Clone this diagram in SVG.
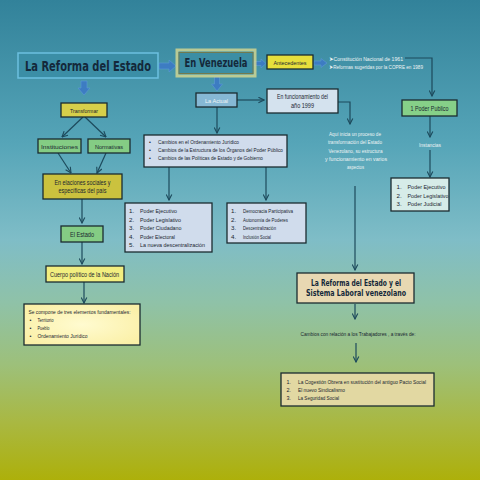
<svg xmlns="http://www.w3.org/2000/svg" width="480" height="480" viewBox="0 0 480 480">
<defs>
<linearGradient id="bg" x1="0" y1="0" x2="0" y2="1">
<stop offset="0" stop-color="#32829a"/>
<stop offset="0.3" stop-color="#56a5b8"/>
<stop offset="0.5" stop-color="#7fbdc7"/>
<stop offset="0.63" stop-color="#8fc2a8"/>
<stop offset="0.76" stop-color="#9dc07a"/>
<stop offset="0.88" stop-color="#a9b842"/>
<stop offset="1" stop-color="#adb00a"/>
</linearGradient>
<radialGradient id="yel" cx="0.5" cy="0.5" r="0.6">
<stop offset="0" stop-color="#fffbd0"/>
<stop offset="1" stop-color="#fbf0a8"/>
</radialGradient>
<marker id="ah" viewBox="0 0 10 10" refX="9" refY="5" markerWidth="7" markerHeight="7" orient="auto" markerUnits="userSpaceOnUse">
<path d="M1,1 L9,5 L1,9" fill="none" stroke="#1d4a5c" stroke-width="1.6"/>
</marker>
<style>
.box{stroke:#1b2b30;stroke-width:1.3}
.t{font-family:"Liberation Sans",Arial,sans-serif;fill:#1a2630}
.w{font-family:"Liberation Sans",Arial,sans-serif;fill:#eef4f4}
.h{font-family:"DejaVu Sans Condensed","DejaVu Sans",sans-serif;font-weight:bold;fill:#14283a}
.c{fill:none;stroke:#1d4a5c;stroke-width:1.2}
.ba{fill:#3d7cc2;stroke:#5d9ad6;stroke-width:0.6}
.m{text-anchor:middle}
</style>
</defs>
<rect width="480" height="480" fill="url(#bg)"/>

<g id="connectors">
<path class="ba" d="M159,63 H169 V60 L176,66 L169,72 V69 H159 Z"/>
<path class="ba" d="M254,61.5 H261 V59 L266,63.5 L261,68 V65.5 H254 Z"/>
<path class="ba" d="M314,61 H321 V58.5 L327,63 L321,67.5 V65 H314 Z"/>
<path class="ba" d="M214.5,77 H219.5 V84 H222.5 L217,91 L211.5,84 H214.5 Z"/>
<path class="ba" d="M81,81 H87 V88 H90 L84,95 L78,88 H81 Z"/>
<path class="c" d="M405,58 H432 V96" marker-end="url(#ah)"/>
<path class="c" d="M430,116 V137" marker-end="url(#ah)"/>
<path class="c" d="M430,150 V177" marker-end="url(#ah)"/>
<path class="c" d="M237,100 H264" marker-end="url(#ah)"/>
<path class="c" d="M338,102 H350 V124" marker-end="url(#ah)"/>
<path class="c" d="M355,186 V270" marker-end="url(#ah)"/>
<path class="c" d="M217,107 V133" marker-end="url(#ah)"/>
<path class="c" d="M169,167 V200" marker-end="url(#ah)"/>
<path class="c" d="M266,167 V200" marker-end="url(#ah)"/>
<path class="c" d="M83,117 L62,137" marker-end="url(#ah)"/>
<path class="c" d="M85,117 L106,137" marker-end="url(#ah)"/>
<path class="c" d="M58,153 L71,173" marker-end="url(#ah)"/>
<path class="c" d="M106,153 L97,173" marker-end="url(#ah)"/>
<path class="c" d="M82,199 V223" marker-end="url(#ah)"/>
<path class="c" d="M82,242 V264" marker-end="url(#ah)"/>
<path class="c" d="M84,282 V303" marker-end="url(#ah)"/>
<path class="c" d="M355,304 V319" marker-end="url(#ah)"/>
<path class="c" d="M356,343 V362" marker-end="url(#ah)"/>
</g>

<g id="n-reforma">
<rect x="18" y="53" width="140" height="25" fill="#3b8ea6" stroke="#6cc0e0" stroke-width="1.5"/>
<text class="h m" x="88" y="70.5" font-size="14" textLength="126" lengthAdjust="spacingAndGlyphs">La Reforma del Estado</text>
</g>

<g id="n-venezuela">
<rect x="177" y="50" width="78" height="26" fill="none" stroke="#d8d890" stroke-width="3" opacity="0.8"/>
<rect x="179" y="52.5" width="74" height="21" fill="#3c8ea4" stroke="#707a50" stroke-width="1"/>
<text class="h m" x="216" y="67" font-size="11.5" textLength="63" lengthAdjust="spacingAndGlyphs">En Venezuela</text>
</g>

<g id="n-antecedentes">
<rect class="box" x="267" y="55" width="46" height="14" fill="#e6df3c"/>
<text class="t m" x="290" y="64.5" font-size="6" textLength="33" lengthAdjust="spacingAndGlyphs">Antecedentes</text>
</g>

<g id="n-antec-text">
<text class="w" x="329" y="60.5" font-size="5.6" textLength="74" lengthAdjust="spacingAndGlyphs">➤Constitución Nacional de 1961</text>
<text class="w" x="329" y="68.5" font-size="5.6" textLength="94" lengthAdjust="spacingAndGlyphs">➤Reformas sugeridas por la COPRE en 1989</text>
</g>

<g id="n-poderpublico">
<rect class="box" x="402" y="100" width="55" height="16" fill="#86d088"/>
<text class="t m" x="429.5" y="110.5" font-size="6.5" textLength="38" lengthAdjust="spacingAndGlyphs">1 Poder Publico</text>
</g>

<g id="n-instancias">
<text class="w m" x="430" y="146.5" font-size="5.6" textLength="22" lengthAdjust="spacingAndGlyphs">Instancias</text>
</g>

<g id="n-poderes3">
<rect class="box" x="391" y="178" width="58" height="33" fill="#d6ece8"/>
<text class="t" x="396.5" y="189" font-size="6.2">1.</text>
<text class="t" x="396.5" y="197.5" font-size="6.2">2.</text>
<text class="t" x="396.5" y="206" font-size="6.2">3.</text>
<text class="t" x="407.5" y="189" font-size="6.2" textLength="38" lengthAdjust="spacingAndGlyphs">Poder Ejecutivo</text>
<text class="t" x="407.5" y="197.5" font-size="6.2" textLength="41" lengthAdjust="spacingAndGlyphs">Poder Legislativo</text>
<text class="t" x="407.5" y="206" font-size="6.2" textLength="34" lengthAdjust="spacingAndGlyphs">Poder Judicial</text>
</g>

<g id="n-actual">
<rect class="box" x="196" y="93" width="41" height="14" fill="#86b8d4"/>
<text class="w m" x="216.5" y="102.5" font-size="6.2" textLength="23" lengthAdjust="spacingAndGlyphs">La Actual</text>
</g>

<g id="n-funcionamiento">
<rect class="box" x="267" y="89" width="71" height="24" fill="#d4e2ee"/>
<text class="t m" x="302.5" y="99" font-size="6.3" textLength="51" lengthAdjust="spacingAndGlyphs">En funcionamiento del</text>
<text class="t m" x="302.5" y="107.5" font-size="6.3" textLength="23" lengthAdjust="spacingAndGlyphs">año 1999</text>
</g>

<g id="n-aqui">
<text class="w m" x="355" y="136" font-size="5.6" textLength="52" lengthAdjust="spacingAndGlyphs">Aquí inicia un proceso de</text>
<text class="w m" x="355" y="144.3" font-size="5.6" textLength="54" lengthAdjust="spacingAndGlyphs">transformación del Estado</text>
<text class="w m" x="355.5" y="152.6" font-size="5.6" textLength="54" lengthAdjust="spacingAndGlyphs">Venezolano, su estructura</text>
<text class="w m" x="356" y="160.9" font-size="5.6" textLength="62" lengthAdjust="spacingAndGlyphs">y funcionamiento  en varios</text>
<text class="w m" x="355.5" y="169.2" font-size="5.6" textLength="17" lengthAdjust="spacingAndGlyphs">aspectos</text>
</g>

<g id="n-cambios">
<rect class="box" x="144" y="135" width="143" height="32" fill="#d0dcec"/>
<text class="t" x="149" y="144" font-size="5.3">•</text>
<text class="t" x="149" y="152" font-size="5.3">•</text>
<text class="t" x="149" y="160" font-size="5.3">•</text>
<text class="t" x="158" y="144" font-size="5.4" textLength="81" lengthAdjust="spacingAndGlyphs">Cambios en el Ordenamiento Jurídico</text>
<text class="t" x="158" y="152" font-size="5.4" textLength="125" lengthAdjust="spacingAndGlyphs">Cambios de la Estructura de los Órganos del Poder Público</text>
<text class="t" x="158" y="160" font-size="5.4" textLength="105" lengthAdjust="spacingAndGlyphs">Cambios de las Políticas de Estado y de Gobierno</text>
</g>

<g id="n-poderes5">
<rect class="box" x="125" y="203" width="87" height="49" fill="#d0dcec"/>
<text class="t" x="129" y="213" font-size="6.2">1.</text>
<text class="t" x="129" y="221.5" font-size="6.2">2.</text>
<text class="t" x="129" y="230" font-size="6.2">3.</text>
<text class="t" x="129" y="238.5" font-size="6.2">4.</text>
<text class="t" x="129" y="247" font-size="6.2">5.</text>
<text class="t" x="140" y="213" font-size="6.2" textLength="37" lengthAdjust="spacingAndGlyphs">Poder Ejecutivo</text>
<text class="t" x="140" y="221.5" font-size="6.2" textLength="41" lengthAdjust="spacingAndGlyphs">Poder Legislativo</text>
<text class="t" x="140" y="230" font-size="6.2" textLength="41.5" lengthAdjust="spacingAndGlyphs">Poder Ciudadano</text>
<text class="t" x="140" y="238.5" font-size="6.2" textLength="35" lengthAdjust="spacingAndGlyphs">Poder Electoral</text>
<text class="t" x="140" y="247" font-size="6.2" textLength="65" lengthAdjust="spacingAndGlyphs">La nueva descentralización</text>
</g>

<g id="n-democracia">
<rect class="box" x="227" y="203" width="79" height="40" fill="#d0dcec"/>
<text class="t" x="231" y="213" font-size="6.2">1.</text>
<text class="t" x="231" y="221.5" font-size="6.2">2.</text>
<text class="t" x="231" y="230" font-size="6.2">3.</text>
<text class="t" x="231" y="238.5" font-size="6.2">4.</text>
<text class="t" x="243" y="213" font-size="6.2" textLength="50" lengthAdjust="spacingAndGlyphs">Democracia Participativa</text>
<text class="t" x="243" y="221.5" font-size="6.2" textLength="45" lengthAdjust="spacingAndGlyphs">Autonomía de Poderes</text>
<text class="t" x="243" y="230" font-size="6.2" textLength="33" lengthAdjust="spacingAndGlyphs">Descentralización</text>
<text class="t" x="243" y="238.5" font-size="6.2" textLength="28" lengthAdjust="spacingAndGlyphs">Inclusión Social</text>
</g>

<g id="n-transformar">
<rect class="box" x="61" y="103" width="46" height="14" fill="#d6cf4a"/>
<text class="t m" x="84" y="112.5" font-size="6.2" textLength="28" lengthAdjust="spacingAndGlyphs">Transformar</text>
</g>

<g id="n-instituciones">
<rect class="box" x="38" y="139" width="43" height="14" fill="#84cc84"/>
<text class="t m" x="59.5" y="148.5" font-size="6.2" textLength="37" lengthAdjust="spacingAndGlyphs">Instituciones</text>
</g>

<g id="n-normativas">
<rect class="box" x="88" y="139" width="42" height="14" fill="#84cc84"/>
<text class="t m" x="109" y="148.5" font-size="6.2" textLength="28" lengthAdjust="spacingAndGlyphs">Normativas</text>
</g>

<g id="n-elaciones">
<rect class="box" x="43" y="174" width="79" height="25" fill="#cbc23e"/>
<text class="t m" x="82.5" y="184.5" font-size="6.4" textLength="56" lengthAdjust="spacingAndGlyphs">En elaciones sociales y</text>
<text class="t m" x="82.5" y="193" font-size="6.4" textLength="48" lengthAdjust="spacingAndGlyphs">específicas del  país</text>
</g>

<g id="n-estado">
<rect class="box" x="61" y="226" width="42" height="16" fill="#84cc84"/>
<text class="t m" x="82" y="236.5" font-size="6.4" textLength="24" lengthAdjust="spacingAndGlyphs">El Estado</text>
</g>

<g id="n-cuerpo">
<rect class="box" x="46" y="266" width="78" height="16" fill="#f2ee80"/>
<text class="t m" x="84.5" y="276.5" font-size="6.4" textLength="69" lengthAdjust="spacingAndGlyphs">Cuerpo político de la Nación</text>
</g>

<g id="n-compone">
<rect class="box" x="24" y="304" width="116" height="41" fill="url(#yel)"/>
<text class="t" x="28.5" y="313.5" font-size="5.5" textLength="102" lengthAdjust="spacingAndGlyphs">Se compone de tres elementos fundamentales:</text>
<text class="t" x="29.5" y="321.5" font-size="5.5">•</text>
<text class="t" x="29.5" y="329.5" font-size="5.5">•</text>
<text class="t" x="29.5" y="337.5" font-size="5.5">•</text>
<text class="t" x="37.5" y="321.5" font-size="5.5" textLength="16" lengthAdjust="spacingAndGlyphs">Territorio</text>
<text class="t" x="37.5" y="329.5" font-size="5.5" textLength="12" lengthAdjust="spacingAndGlyphs">Pueblo</text>
<text class="t" x="37.5" y="337.5" font-size="5.5" textLength="50" lengthAdjust="spacingAndGlyphs">Ordenamiento Jurídico</text>
</g>

<g id="n-laboral">
<rect class="box" x="297" y="273" width="117" height="30" fill="#e8d8b2"/>
<text class="h m" x="356" y="285.5" font-size="8.4" textLength="90" lengthAdjust="spacingAndGlyphs">La Reforma del Estado y el</text>
<text class="h m" x="356" y="296" font-size="8.4" textLength="100" lengthAdjust="spacingAndGlyphs">Sistema Laboral venezolano</text>
</g>

<g id="n-cambiostrab">
<text class="t m" x="358" y="336" font-size="5.2" textLength="115" lengthAdjust="spacingAndGlyphs">Cambios con relación a los Trabajadores , a través de:</text>
</g>

<g id="n-cogestion">
<rect class="box" x="281" y="373" width="153" height="33" fill="#e2d8a2" stroke-width="1.6"/>
<text class="t" x="286.5" y="383.5" font-size="5.4">1.</text>
<text class="t" x="286.5" y="391.5" font-size="5.4">2.</text>
<text class="t" x="286.5" y="399.5" font-size="5.4">3.</text>
<text class="t" x="298" y="383.5" font-size="5.5" textLength="128" lengthAdjust="spacingAndGlyphs">La Cogestión Obrera en sustitución del antiguo Pacto Social</text>
<text class="t" x="298" y="391.5" font-size="5.5" textLength="47" lengthAdjust="spacingAndGlyphs">El nuevo Sindicalismo</text>
<text class="t" x="298" y="399.5" font-size="5.5" textLength="41" lengthAdjust="spacingAndGlyphs">La Seguridad Social</text>
</g>
</svg>
